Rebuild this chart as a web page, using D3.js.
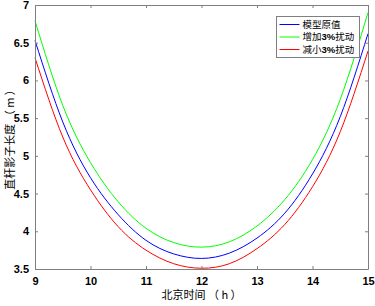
<!DOCTYPE html>
<meta charset="utf-8">
<script src="https://d3js.org/d3.v7.min.js"></script>
<style>
  body { margin: 0; background: #fff; }
  svg { display: block; }
</style>
<div id="chart"></div>
<script>

// time of day (Beijing time, h)
const hours = [9, 9.5, 10, 10.5, 11, 11.5, 12, 12.5, 13, 13.5, 14, 14.5, 15];
// shadow length (m)
const modelValues = [6.53, 5.45, 4.71, 4.22, 3.88, 3.70, 3.64, 3.71, 3.91, 4.24, 4.76, 5.52, 6.62];
const plusValues  = [6.79, 5.67, 4.91, 4.39, 4.04, 3.85, 3.79, 3.86, 4.07, 4.42, 4.95, 5.75, 6.90];
const minusValues = [6.30, 5.25, 4.55, 4.06, 3.75, 3.57, 3.51, 3.57, 3.77, 4.09, 4.59, 5.32, 6.39];

const xTicks = [9, 10, 11, 12, 13, 14, 15];
const yTicks = [3.5, 4, 4.5, 5, 5.5, 6, 6.5, 7];

const seriesNames = ["模型原值", "增加3%扰动", "减小3%扰动"];
const seriesColors = ["#0000ff", "#00ff00", "#ff0000"];
const seriesValues = [modelValues, plusValues, minusValues];

const W = 375, H = 306;
const margin = {top: 5, right: 7, bottom: 37, left: 35};
const width = W - margin.left - margin.right,
      height = H - margin.top - margin.bottom;

const svg = d3.select("#chart")
  .append("svg")
    .attr("width", W)
    .attr("height", H);

const g = svg.append("g")
  .attr("transform", `translate(${margin.left}, ${margin.top})`);

const x = d3.scaleLinear().domain([9, 15]).range([0, width]);
const y = d3.scaleLinear().domain([3.5, 7]).range([height, 0]);

const axisColor = "#7f7f7f";
const tickFont = "'Liberation Sans', Arial, sans-serif";
const cjkFont = "'Noto Sans CJK SC', sans-serif";

// curves
const line = d3.line()
  .x(d => x(d[0]))
  .y(d => y(d[1]))
  .curve(d3.curveNatural);

seriesValues.forEach((vals, i) => {
  g.append("path")
    .datum(hours.map((h, k) => [h, vals[k]]))
    .attr("fill", "none")
    .attr("stroke", seriesColors[i])
    .attr("stroke-width", 1)
    .attr("d", line);
});

// axes, ticks pointing inward (box style)
function styleAxis(sel) {
  sel.select(".domain").attr("stroke", axisColor);
  sel.selectAll(".tick line").attr("stroke", axisColor);
  sel.selectAll(".tick text")
    .attr("fill", "#000")
    .style("font-family", tickFont)
    .style("font-weight", "bold")
    .style("font-size", "11px");
}

g.append("g")
  .attr("transform", `translate(0, ${height})`)
  .call(d3.axisBottom(x).tickValues(xTicks).tickFormat(d3.format("d"))
    .tickSizeInner(-3).tickSizeOuter(0).tickPadding(8))
  .call(styleAxis);

g.append("g")
  .call(d3.axisLeft(y).tickValues(yTicks).tickFormat(d => d)
    .tickSizeInner(-3).tickSizeOuter(0).tickPadding(6))
  .call(styleAxis);

g.append("g")
  .call(d3.axisTop(x).tickValues(xTicks).tickFormat("")
    .tickSizeInner(-3).tickSizeOuter(0))
  .call(styleAxis);

g.append("g")
  .attr("transform", `translate(${width}, 0)`)
  .call(d3.axisRight(y).tickValues(yTicks).tickFormat("")
    .tickSizeInner(-3).tickSizeOuter(0))
  .call(styleAxis);

// axis titles
svg.append("text")
  .attr("x", margin.left + width / 2)
  .attr("y", 299)
  .attr("text-anchor", "middle")
  .style("font-family", cjkFont)
  .style("font-size", "11px")
  .text("北京时间 （ h ）");

svg.append("text")
  .attr("transform", `translate(14, ${margin.top + height / 2}) rotate(-90)`)
  .attr("text-anchor", "middle")
  .style("font-family", cjkFont)
  .style("font-size", "11px")
  .text("直杆影子长度 （ m ）");

// legend
const legend = svg.append("g").attr("transform", "translate(276.5, 16.5)");
legend.append("rect")
  .attr("width", 83)
  .attr("height", 41)
  .attr("fill", "#fff")
  .attr("stroke", axisColor);

seriesNames.forEach((name, i) => {
  const row = legend.append("g").attr("transform", `translate(0, ${8 + i * 12.5})`);
  row.append("line")
    .attr("x1", 3).attr("x2", 23)
    .attr("stroke", seriesColors[i])
    .attr("stroke-width", 1);
  const t = row.append("text")
    .attr("x", 26)
    .attr("dy", "0.35em")
    .style("font-family", cjkFont)
    .style("font-size", "9.5px");
  const m = name.match(/^(.*?)(3%)(.*)$/);
  if (m) {
    t.append("tspan").text(m[1]);
    t.append("tspan").style("font-family", tickFont).style("font-weight", "bold").text(m[2]);
    t.append("tspan").text(m[3]);
  } else {
    t.text(name);
  }
});

</script>
